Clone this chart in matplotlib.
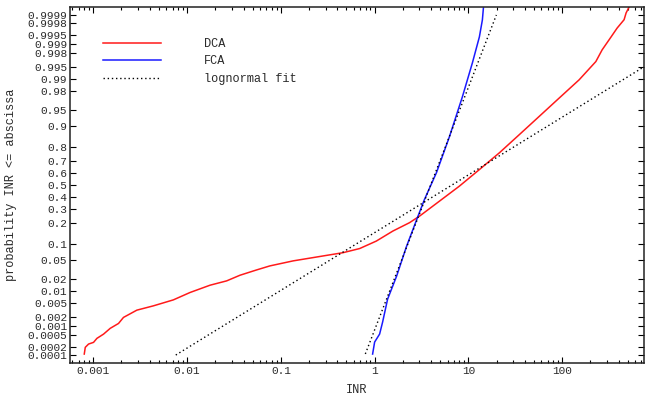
"""
Probability plot of INR for DCA and FCA with lognormal fits.
y axis: normal probability (probit) scale, x axis: log INR
"""

import numpy as np
import matplotlib
matplotlib.use('Agg')
import matplotlib.pyplot as plt
from statistics import NormalDist


# DCA empirical distribution (INR, probability INR <= abscissa)
dca_inr = [0.000802, 0.000822, 0.000891, 0.001007, 0.001094, 0.001288,
           0.001517, 0.001859, 0.002100, 0.002917, 0.004378, 0.00714,
           0.01076, 0.01757, 0.02644, 0.03664, 0.05510, 0.07638, 0.1352,
           0.3062, 0.4603, 0.6925, 1.042, 1.566, 2.357, 3.012, 4.913, 8.01,
           13.09, 21.36, 34.88, 56.9, 92.9, 151.6, 228.4, 266.5, 332.0,
           385.0, 457.0, 480.0, 516.0]
dca_prob = [0.000109, 0.000192, 0.000252, 0.000289, 0.000398, 0.000555,
            0.00086, 0.00123, 0.00189, 0.00310, 0.00411, 0.00599, 0.00936,
            0.0142, 0.0180, 0.0242, 0.0316, 0.0384, 0.0485, 0.0618, 0.0694,
            0.0823, 0.110, 0.157, 0.205, 0.248, 0.362, 0.490, 0.632, 0.759,
            0.8646, 0.9333, 0.9714, 0.9893, 0.99653, 0.99844, 0.99940,
            0.99970, 0.99985, 0.999916, 0.99995]

# FCA empirical distribution
fca_inr = [0.952, 1.0, 1.130, 1.216, 1.375, 1.714, 2.190, 2.866, 3.40,
           4.57, 6.28, 8.63, 11.03, 13.09, 14.09, 14.45]
fca_prob = [0.000109, 0.000296, 0.000555, 0.00135, 0.00626, 0.0230, 0.0899,
            0.239, 0.376, 0.6075, 0.855, 0.9732, 0.99623, 0.99940,
            0.999847, 0.999946]

# lognormal fits (straight lines on this paper), end points
fit_dca_inr = [0.00758, 5890.0]
fit_dca_prob = [0.0001, 0.9999]
fit_fca_inr = [0.796, 19.86]
fit_fca_prob = [0.00011, 0.9999]

prob_ticks = [0.0001, 0.0002, 0.0005, 0.001, 0.002, 0.005, 0.01, 0.02,
              0.05, 0.1, 0.2, 0.3, 0.4, 0.5, 0.6, 0.7, 0.8, 0.9, 0.95,
              0.98, 0.99, 0.995, 0.998, 0.999, 0.9995, 0.9998, 0.9999]

nd = NormalDist()


def probit(p):
    return np.array([nd.inv_cdf(v) for v in p])


font = 'Liberation Mono'
fs_tick = 8.0
fs_lab = 8.6
txt_col = '#2a2a2a'

fig = plt.figure(figsize=(6.45, 3.99), dpi=100)
ax = fig.add_axes([70/645, 36/399, 574/645, 356/399])

ax.plot(dca_inr, probit(dca_prob), color='#ff1a1a', lw=1.1, label='DCA')
ax.plot(fca_inr, probit(fca_prob), color='#1a1aff', lw=1.1, label='FCA')
ax.plot(fit_dca_inr, probit(fit_dca_prob), color='k', lw=1.0,
        ls=(0, (1, 2)), label='lognormal fit')
ax.plot(fit_fca_inr, probit(fit_fca_prob), color='k', lw=1.0,
        ls=(0, (1, 2)))

ax.set_xscale('log')
ax.set_xlim(0.000565, 745)
ax.set_ylim(-3.893, 3.893)

ax.set_yticks(probit(prob_ticks))
ax.set_yticklabels([str(p) for p in prob_ticks])
ax.set_xticks([0.001, 0.01, 0.1, 1, 10, 100])
ax.set_xticklabels(['0.001', '0.01', '0.1', '1', '10', '100'])

ax.tick_params(which='both', direction='in', top=True, right=True,
               labelsize=fs_tick, labelcolor=txt_col, width=0.8, pad=2)
ax.tick_params(which='major', length=4)
ax.tick_params(which='minor', length=2.5)
ax.yaxis.set_minor_locator(plt.NullLocator())
for lab in ax.get_xticklabels() + ax.get_yticklabels():
    lab.set_family(font)

for sp in ax.spines.values():
    sp.set_linewidth(1.1)
    sp.set_color('#222222')

ax.set_xlabel('INR', fontsize=fs_lab, family=font, color=txt_col, labelpad=6)
ax.set_ylabel('probability INR <= abscissa', fontsize=fs_lab, family=font,
              color=txt_col)
ax.yaxis.set_label_coords(-0.092, 0.5)

ax.legend(loc='upper left', bbox_to_anchor=(0.058, 0.913), frameon=False,
          prop=dict(family=font, size=fs_lab), handlelength=4.8,
          handletextpad=3.6, labelspacing=0.45, borderpad=0,
          borderaxespad=0, labelcolor=txt_col)

plt.savefig('out.png', dpi=100)
plt.close('all')
